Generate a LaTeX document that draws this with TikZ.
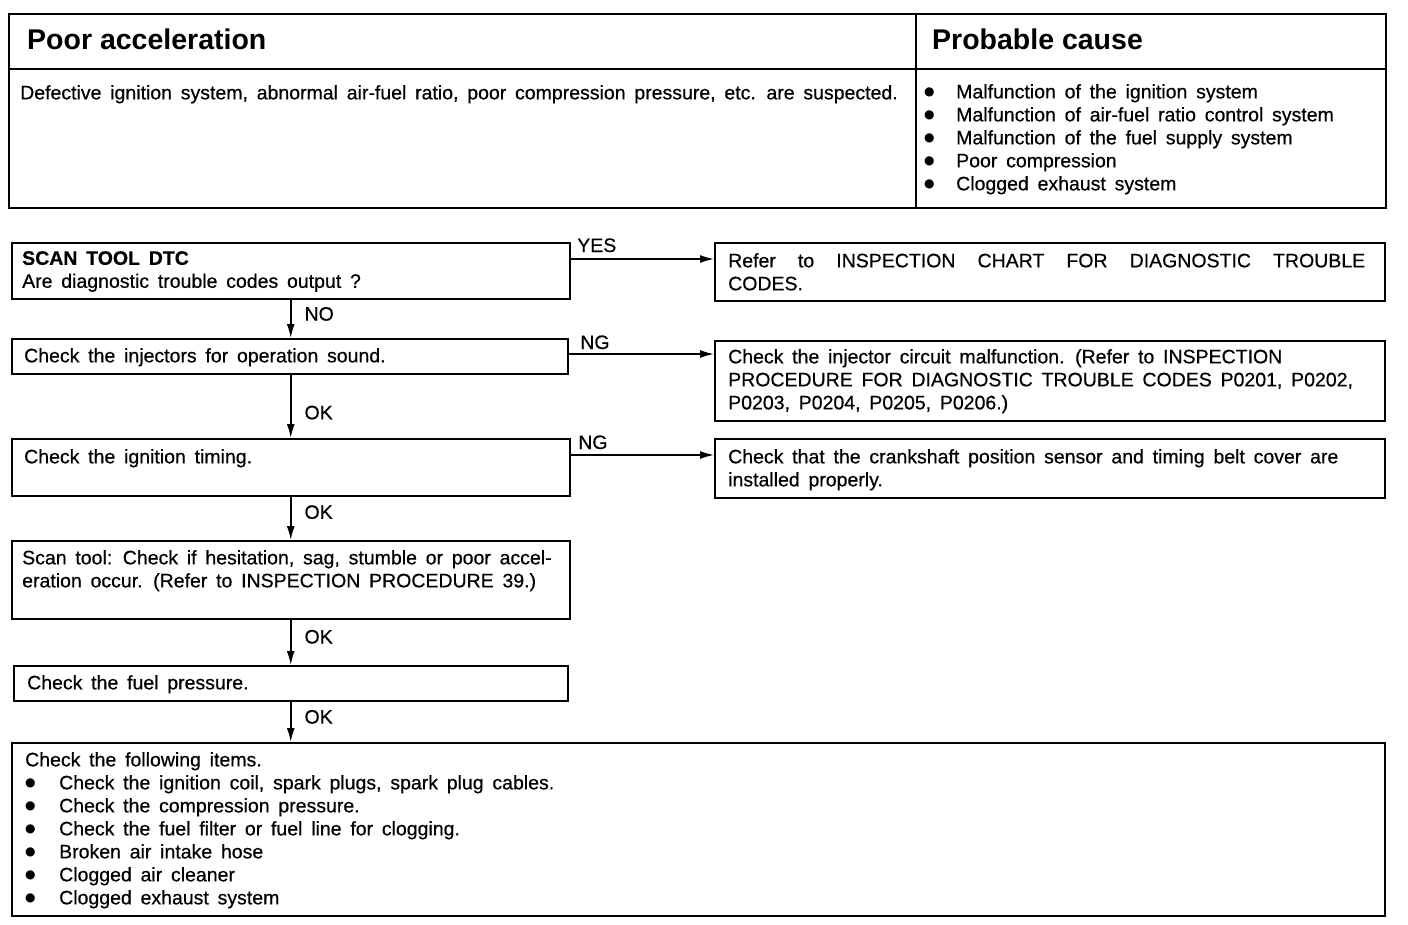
\documentclass[tikz,border=0pt]{standalone}
\usepackage{fontspec}
\setmainfont{Liberation Sans}
\newfontfamily\symfont{DejaVu Sans}
\usetikzlibrary{arrows.meta}

\newcommand\bodyfont{\fontsize{19.5}{23}\selectfont\addfontfeatures{FakeBold=0.5}\spaceskip=0.45em plus 0.1em\relax}
\newcommand\headfont{\fontsize{28.5}{30}\bfseries\selectfont}
\newcommand\bigdot{\raisebox{3pt}{\symfont\fontsize{12}{12}\selectfont ●}}
\newcommand\bul{\makebox[32pt][l]{\bigdot}}
\newcommand\ibul{\makebox[34pt][l]{\bigdot}}
\newcommand\wide[2]{\makebox[#1][s]{\spaceskip=0.3em plus 1fil\relax #2}}

\begin{document}
\begin{tikzpicture}[x=1pt,y=-1pt,
  box/.style={draw,line width=1.5pt,inner sep=0pt,anchor=north west},
  txt/.style={anchor=north west,inner sep=0pt,align=left,font=\bodyfont},
  lbl/.style={inner sep=0pt,font=\bodyfont},
  arr/.style={-{Latex[length=14pt,width=8pt]},line width=1.6pt}]
  \useasboundingbox (0,0) rectangle (1408,924);
  % header table
  \draw[line width=1.5pt] (9,14) rectangle (1386,208);
  \draw[line width=1.5pt] (9,69) -- (1386,69);
  \draw[line width=1.2pt] (916,14) -- (916,208);
  \node[txt,font=\headfont] (title) at (27,29) {Poor acceleration};
  \node[txt,font=\headfont] (cause) at (932,29) {Probable cause};
  \node[txt] (descr) at (20,85) {Defective ignition system, abnormal air-fuel ratio, poor compression pressure, etc. are suspected.};
  \node[txt] (causes) at (924,84) {\bul Malfunction of the ignition system\\
    \bul Malfunction of air-fuel ratio control system\\
    \bul Malfunction of the fuel supply system\\
    \bul Poor compression\\
    \bul Clogged exhaust system};
  % flow boxes
  \node[box,minimum width=558,minimum height=56] (dtc) at (11,242) {};
  \node[box,minimum width=670,minimum height=58] (refdtc) at (714,242) {};
  \node[box,minimum width=556,minimum height=35] (inj) at (11,338) {};
  \node[box,minimum width=670,minimum height=80] (injref) at (714,340) {};
  \node[box,minimum width=558,minimum height=57] (ign) at (11,438) {};
  \node[box,minimum width=670,minimum height=59] (crank) at (714,438) {};
  \node[box,minimum width=558,minimum height=78] (scan) at (11,540) {};
  \node[box,minimum width=554,minimum height=35] (fuel) at (13,665) {};
  \node[box,minimum width=1373,minimum height=173] (items) at (11,742) {};
  % texts
  \node[txt] (dtcT) at (22,251) {\textbf{SCAN TOOL DTC}\\Are diagnostic trouble codes output ?};
  \node[txt] (refdtcT) at (728,253) {\wide{637pt}{Refer to INSPECTION CHART FOR DIAGNOSTIC TROUBLE}\\CODES.};
  \node[txt] (injT) at (24,348) {Check the injectors for operation sound.};
  \node[txt] (injrefT) at (728,349) {Check the injector circuit malfunction. (Refer to INSPECTION\\
    PROCEDURE FOR DIAGNOSTIC TROUBLE CODES P0201, P0202,\\
    P0203, P0204, P0205, P0206.)};
  \node[txt] (ignT) at (24,449) {Check the ignition timing.};
  \node[txt] (crankT) at (728,449) {Check that the crankshaft position sensor and timing belt cover are\\installed properly.};
  \node[txt] (scanT) at (22,550) {Scan tool: Check if hesitation, sag, stumble or poor accel-\\
    eration occur. (Refer to INSPECTION PROCEDURE 39.)};
  \node[txt] (fuelT) at (27,675) {Check the fuel pressure.};
  \node[txt] (itemsT) at (25,752) {Check the following items.\\
    \ibul Check the ignition coil, spark plugs, spark plug cables.\\
    \ibul Check the compression pressure.\\
    \ibul Check the fuel filter or fuel line for clogging.\\
    \ibul Broken air intake hose\\
    \ibul Clogged air cleaner\\
    \ibul Clogged exhaust system};
  % connectors
  \draw[arr] ([yshift=-17pt]dtc.north east) -- ([yshift=-17pt]dtc.north east -| refdtc.west)
    node[lbl,pos=0,anchor=base west,xshift=6pt,yshift=7pt] {YES};
  \draw[arr] ([yshift=-16pt]inj.north east) -- ([yshift=-16pt]inj.north east -| injref.west)
    node[lbl,pos=0,anchor=base west,xshift=11pt,yshift=5pt] {NG};
  \draw[arr] ([yshift=-17pt]ign.north east) -- ([yshift=-17pt]ign.north east -| crank.west)
    node[lbl,pos=0,anchor=base west,xshift=7pt,yshift=6pt] {NG};
  \draw[arr] (dtc.south) -- (dtc.south |- inj.north)
    node[lbl,pos=0.375,anchor=west,xshift=13pt] {NO};
  \draw[arr] (dtc.south |- inj.south) -- (dtc.south |- ign.north)
    node[lbl,pos=0.6,anchor=west,xshift=13pt] {OK};
  \draw[arr] (ign.south) -- (ign.south |- scan.north)
    node[lbl,pos=0.36,anchor=west,xshift=13pt] {OK};
  \draw[arr] (scan.south) -- (scan.south |- fuel.north)
    node[lbl,pos=0.38,anchor=west,xshift=13pt] {OK};
  \draw[arr] (scan.south |- fuel.south) -- (scan.south |- items.north)
    node[lbl,pos=0.38,anchor=west,xshift=13pt] {OK};
\end{tikzpicture}
\end{document}
